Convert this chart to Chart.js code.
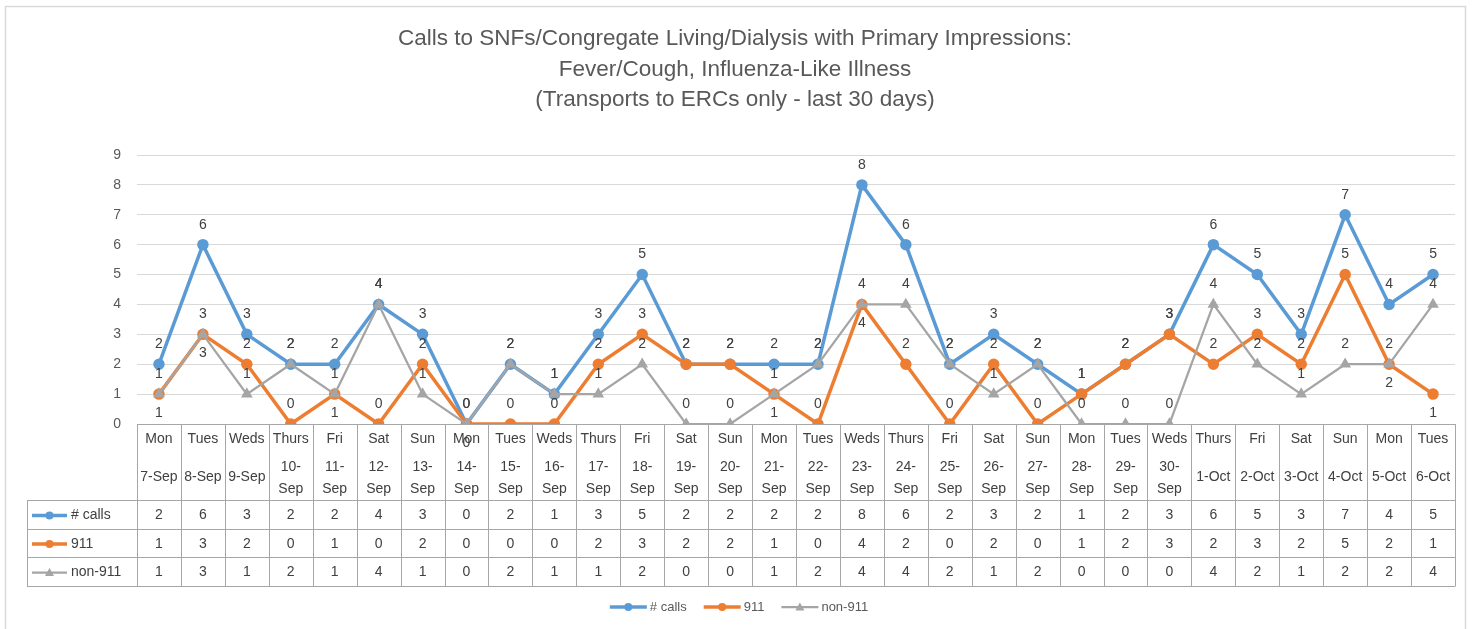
<!DOCTYPE html>
<html>
<head>
<meta charset="utf-8">
<script src="https://cdn.jsdelivr.net/npm/chart.js@4.4.0/dist/chart.umd.min.js"></script>
<style>
  html, body { margin: 0; padding: 0; background: #fff; }
  #wrap { position: relative; width: 1473px; height: 629px; }
</style>
</head>
<body>
<div id="wrap"><canvas id="chart" width="1473" height="629"></canvas></div>
<script>
// chart data
const dayNames = ['Mon','Tues','Weds','Thurs','Fri','Sat','Sun','Mon','Tues','Weds','Thurs','Fri','Sat','Sun','Mon','Tues','Weds','Thurs','Fri','Sat','Sun','Mon','Tues','Weds','Thurs','Fri','Sat','Sun','Mon','Tues'];
const dates = ['7-Sep','8-Sep','9-Sep','10-Sep','11-Sep','12-Sep','13-Sep','14-Sep','15-Sep','16-Sep','17-Sep','18-Sep','19-Sep','20-Sep','21-Sep','22-Sep','23-Sep','24-Sep','25-Sep','26-Sep','27-Sep','28-Sep','29-Sep','30-Sep','1-Oct','2-Oct','3-Oct','4-Oct','5-Oct','6-Oct'];
const totalCalls = [2,6,3,2,2,4,3,0,2,1,3,5,2,2,2,2,8,6,2,3,2,1,2,3,6,5,3,7,4,5];
const calls911 = [1,3,2,0,1,0,2,0,0,0,2,3,2,2,1,0,4,2,0,2,0,1,2,3,2,3,2,5,2,1];
const callsNon911 = [1,3,1,2,1,4,1,0,2,1,1,2,0,0,1,2,4,4,2,1,2,0,0,0,4,2,1,2,2,4];
const yTicks = [0,1,2,3,4,5,6,7,8,9];
const titleLines = ['Calls to SNFs/Congregate Living/Dialysis with Primary Impressions:', 'Fever/Cough, Influenza-Like Illness', '(Transports to ERCs only - last 30 days)'];

const FONT = '"Liberation Sans", Arial, sans-serif';
const txt = '#404040';
const axisTxt = '#595959';
const tableLine = '#a6a6a6';

// title, border, data labels, data table, legend
const excelLook = {
    id: 'excelLook',
    beforeDraw(chart) {
        const ctx = chart.ctx;
        ctx.save();
        ctx.strokeStyle = '#d9d9d9';
        ctx.lineWidth = 1.5;
        ctx.strokeRect(5.5, 6.5, 1460, 640);
        ctx.fillStyle = axisTxt;
        ctx.font = '22.5px ' + FONT;
        ctx.textAlign = 'center';
        ctx.textBaseline = 'middle';
        titleLines.forEach((t, i) => ctx.fillText(t, 735, 39 + i * 30.5));
        ctx.restore();
    },
    afterDatasetsDraw(chart) {
        const ctx = chart.ctx;
        ctx.save();
        ctx.font = '14px ' + FONT;
        ctx.fillStyle = txt;
        ctx.textAlign = 'center';
        ctx.textBaseline = 'middle';
        chart.data.datasets.forEach((ds, di) => {
            const meta = chart.getDatasetMeta(di);
            meta.data.forEach((pt, i) => {
                let below = di === 2 && ds.data[i] === calls911[i];
                if (di === 1 && i === ds.data.length - 1) below = true;
                ctx.fillText(String(ds.data[i]), pt.x, pt.y + (below ? 19 : -20));
            });
        });
        ctx.restore();
    },
    afterDraw(chart) {
        const ctx = chart.ctx;
        const area = chart.chartArea;
        const x = chart.scales.x;
        const n = dates.length;
        const colW = (area.right - area.left) / n;
        const top = area.bottom;
        const rows = [500, 529, 557, 586];
        const keyLeft = 27;

        ctx.save();
        ctx.strokeStyle = tableLine;
        ctx.lineWidth = 1;
        ctx.beginPath();
        ctx.moveTo(area.left, top + 0.5);
        ctx.lineTo(area.right, top + 0.5);
        rows.forEach(r => { ctx.moveTo(keyLeft, r + 0.5); ctx.lineTo(area.right, r + 0.5); });
        for (let i = 0; i <= n; i++) {
            const vx = Math.round(area.left + i * colW) + 0.5;
            ctx.moveTo(vx, top);
            ctx.lineTo(vx, rows[3] + 0.5);
        }
        ctx.moveTo(keyLeft + 0.5, rows[0]);
        ctx.lineTo(keyLeft + 0.5, rows[3] + 0.5);
        ctx.stroke();

        ctx.fillStyle = txt;
        ctx.font = '14px ' + FONT;
        ctx.textAlign = 'center';
        ctx.textBaseline = 'middle';
        for (let i = 0; i < n; i++) {
            const cx = x.getPixelForValue(i);
            ctx.fillText(dayNames[i], cx, 439);
            const d = dates[i];
            if (ctx.measureText(d).width > colW - 3) {
                const parts = d.split('-');
                ctx.fillText(parts[0] + '-', cx, 467);
                ctx.fillText(parts[1], cx, 489);
            } else {
                ctx.fillText(d, cx, 477);
            }
        }
        const series = [totalCalls, calls911, callsNon911];
        series.forEach((vals, r) => {
            const cy = (rows[r] + rows[r + 1]) / 2 + 1;
            vals.forEach((v, i) => ctx.fillText(String(v), x.getPixelForValue(i), cy));
        });

        // keys in the table
        chart.data.datasets.forEach((ds, r) => {
            const cy = (rows[r] + rows[r + 1]) / 2 + 1;
            drawKey(ctx, ds, 32, 67, cy);
            ctx.fillStyle = txt;
            ctx.font = '14px ' + FONT;
            ctx.textAlign = 'left';
            ctx.fillText(ds.label, 71, cy);
        });

        // bottom legend
        ctx.font = '13px ' + FONT;
        const items = chart.data.datasets.map(ds => ({ ds, w: 37 + 3 + ctx.measureText(ds.label).width }));
        const gap = 17;
        const total = items.reduce((s, it) => s + it.w, 0) + gap * (items.length - 1);
        let lx = 739 - total / 2;
        items.forEach(it => {
            drawKey(ctx, it.ds, lx, lx + 37, 607);
            ctx.fillStyle = axisTxt;
            ctx.font = '13px ' + FONT;
            ctx.textAlign = 'left';
            ctx.fillText(it.ds.label, lx + 40, 607);
            lx += it.w + gap;
        });
        ctx.restore();
    }
};

function drawKey(ctx, ds, x0, x1, y) {
    ctx.save();
    ctx.strokeStyle = ds.borderColor;
    ctx.lineWidth = ds.borderWidth;
    ctx.beginPath();
    ctx.moveTo(x0, y);
    ctx.lineTo(x1, y);
    ctx.stroke();
    ctx.fillStyle = ds.pointBackgroundColor;
    const mx = (x0 + x1) / 2;
    ctx.beginPath();
    if (ds.pointStyle === 'triangle') {
        ctx.moveTo(mx, y - 4.5);
        ctx.lineTo(mx + 4.5, y + 3.5);
        ctx.lineTo(mx - 4.5, y + 3.5);
        ctx.closePath();
    } else {
        ctx.arc(mx, y, 4, 0, Math.PI * 2);
    }
    ctx.fill();
    ctx.restore();
}

new Chart(document.getElementById('chart'), {
    type: 'line',
    data: {
        labels: dates,
        datasets: [
            {
                label: '# calls',
                data: totalCalls,
                borderColor: '#5b9bd5',
                backgroundColor: '#5b9bd5',
                pointBackgroundColor: '#5b9bd5',
                pointBorderColor: '#5b9bd5',
                borderWidth: 3.5,
                pointRadius: 4,
                pointStyle: 'circle',
                tension: 0,
                order: 3
            },
            {
                label: '911',
                data: calls911,
                borderColor: '#ed7d31',
                backgroundColor: '#ed7d31',
                pointBackgroundColor: '#ed7d31',
                pointBorderColor: '#ed7d31',
                borderWidth: 3.5,
                pointRadius: 4,
                pointStyle: 'circle',
                tension: 0,
                order: 2
            },
            {
                label: 'non-911',
                data: callsNon911,
                borderColor: '#a5a5a5',
                backgroundColor: '#a5a5a5',
                pointBackgroundColor: '#a5a5a5',
                pointBorderColor: '#a5a5a5',
                borderWidth: 2.25,
                pointRadius: 4.5,
                pointStyle: 'triangle',
                tension: 0,
                order: 1
            }
        ]
    },
    options: {
        responsive: false,
        animation: false,
        layout: { padding: { top: 155, bottom: 205, left: 0, right: 18 } },
        plugins: {
            legend: { display: false },
            title: { display: false },
            tooltip: { enabled: false }
        },
        scales: {
            x: { display: false, offset: true },
            y: {
                min: 0,
                max: 9,
                afterFit: scale => { scale.width = 137; },
                afterBuildTicks: scale => { scale.ticks = yTicks.map(v => ({ value: v })); },
                border: { display: false },
                grid: { color: '#d9d9d9', lineWidth: 1, drawTicks: false },
                ticks: { color: axisTxt, font: { family: FONT, size: 14 }, padding: 16 }
            }
        }
    },
    plugins: [excelLook]
});
</script>
</body>
</html>
